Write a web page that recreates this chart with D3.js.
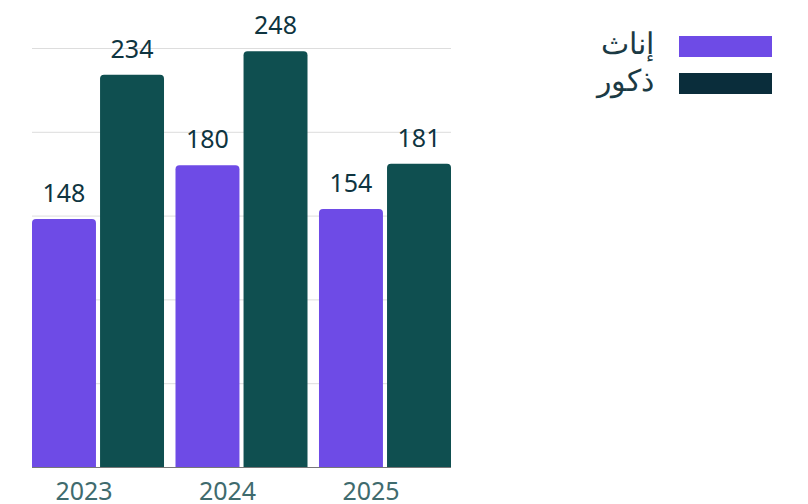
<!DOCTYPE html>
<html>
<head>
<meta charset="utf-8">
<script src="https://cdn.jsdelivr.net/npm/d3@7"></script>
<style>
  body { margin: 0; background: #fff; }
  svg { display: block; font-family: "Noto Sans", "Open Sans", sans-serif; }
</style>
</head>
<body>
<div id="frame"></div>
<script>
const years = ["2023", "2024", "2025"];
const seriesNames = ["إناث", "ذكور"];
const femaleValues = [148, 180, 154];
const maleValues = [234, 248, 181];
const gridTicks = [0, 50, 100, 150, 200, 250];

const barColors = ["#6e4be6", "#0f4f50"];
const legendColors = ["#6e4be6", "#0a2d3b"];

const width = 808, height = 504;
const margin = { left: 32, right: 357, top: 48, bottom: 37 };

const svg = d3.select("#frame").append("svg")
  .attr("width", width)
  .attr("height", height);

const x0 = d3.scaleBand()
  .domain(years)
  .range([margin.left, width - margin.right])
  .paddingInner(0.08);

const x1 = d3.scaleBand()
  .domain([0, 1])
  .range([0, x0.bandwidth()])
  .paddingInner(0.06);

const y = d3.scaleLinear()
  .domain([0, 250])
  .range([height - margin.bottom, margin.top]);

// gridlines
svg.append("g")
  .selectAll("line")
  .data(gridTicks)
  .join("line")
  .attr("x1", margin.left)
  .attr("x2", width - margin.right)
  .attr("y1", d => y(d) + 0.5)
  .attr("y2", d => y(d) + 0.5)
  .attr("stroke", "#dddddd")
  .attr("stroke-width", 1);

const rows = years.map((yr, i) => ({ year: yr, values: [femaleValues[i], maleValues[i]] }));

// rounded top bars
function barPath(xp, w, top, bottom, r) {
  r = Math.min(r, w / 2, bottom - top);
  return `M${xp},${bottom}V${top + r}Q${xp},${top} ${xp + r},${top}H${xp + w - r}Q${xp + w},${top} ${xp + w},${top + r}V${bottom}Z`;
}

const group = svg.append("g")
  .selectAll("g")
  .data(rows)
  .join("g")
  .attr("transform", d => `translate(${x0(d.year)},0)`);

group.selectAll("path")
  .data(d => d.values.map((v, k) => ({ v, k })))
  .join("path")
  .attr("d", d => barPath(x1(d.k), x1.bandwidth(), y(d.v), y(0), 4))
  .attr("fill", d => barColors[d.k]);

group.selectAll("text")
  .data(d => d.values.map((v, k) => ({ v, k })))
  .join("text")
  .attr("x", d => x1(d.k) + x1.bandwidth() / 2)
  .attr("y", d => y(d.v) - 17)
  .attr("text-anchor", "middle")
  .attr("font-size", 25)
  .attr("fill", "#0e3440")
  .text(d => d.v);

// baseline
svg.append("line")
  .attr("x1", margin.left)
  .attr("x2", width - margin.right)
  .attr("y1", y(0) + 0.5)
  .attr("y2", y(0) + 0.5)
  .attr("stroke", "#777")
  .attr("stroke-width", 1);

// x axis labels
const xAxis = d3.axisBottom(x0).tickSize(0).tickPadding(15);
const gx = svg.append("g")
  .attr("transform", `translate(-14,${y(0)})`)
  .call(xAxis);
gx.select(".domain").remove();
gx.selectAll("text")
  .attr("font-family", "'Noto Sans', 'Open Sans', sans-serif")
  .attr("font-size", 25)
  .attr("fill", "#3f6b6e");

// legend
const legend = svg.append("g")
  .selectAll("g")
  .data(seriesNames)
  .join("g")
  .attr("transform", (d, i) => `translate(679,${36 + i * 37})`);

legend.append("rect")
  .attr("width", 93)
  .attr("height", 21)
  .attr("fill", (d, i) => legendColors[i]);

legend.append("text")
  .attr("x", -25)
  .attr("y", 18)
  .attr("text-anchor", "end")
  .attr("font-size", 30)
  .attr("fill", "#1b3a44")
  .text(d => d);
</script>
</body>
</html>
